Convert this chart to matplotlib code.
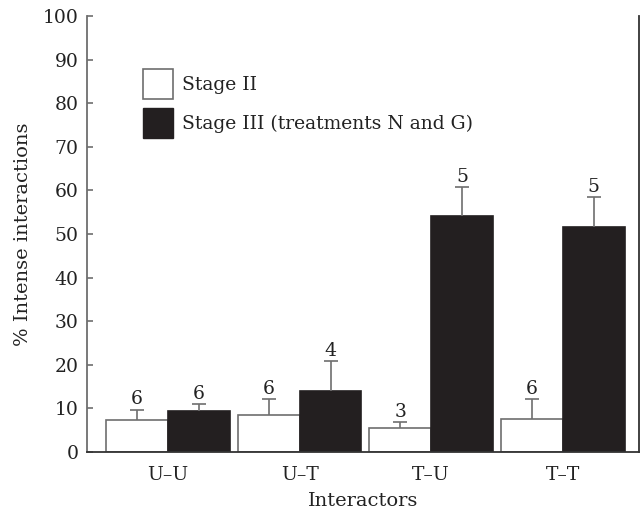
import matplotlib.pyplot as plt
import numpy as np
from matplotlib.patches import Patch

# data
groups = ['U\u2013U', 'U\u2013T', 'T\u2013U', 'T\u2013T']
stage2 = [7.4, 8.5, 5.6, 7.5]
stage2_err = [2.3, 3.6, 1.3, 4.7]
stage2_n = ['6', '6', '3', '6']
stage3 = [9.5, 14.0, 54.1, 51.6]
stage3_err = [1.4, 6.9, 6.6, 6.9]
stage3_n = ['6', '4', '5', '5']

plt.rcParams['font.family'] = ['DejaVu Serif']

fig = plt.figure(figsize=(6.4, 5.15), dpi=100)
ax = fig.add_axes([0.136, 0.1223, 0.862, 0.8466])

x = np.arange(len(groups))
w = 0.47
grey = '#6e6e6e'
dark = '#231f20'

ax.bar(x - w / 2, stage2, w, color='white', edgecolor=grey, linewidth=1.2)
ax.bar(x + w / 2, stage3, w, color=dark, edgecolor=dark, linewidth=1.2)
for xs, vals, errs in [(x - w / 2, stage2, stage2_err), (x + w / 2, stage3, stage3_err)]:
    eb = ax.errorbar(xs, vals, yerr=[np.zeros(4), errs], fmt='none',
                     ecolor=grey, elinewidth=1.2, capsize=5, capthick=1.2)
    eb[1][0].set_visible(False)  # no lower cap

for xi, v, e, n in zip(x - w / 2, stage2, stage2_err, stage2_n):
    ax.text(xi, v + e + 0.3, n, ha='center', va='bottom', fontsize=13.5, color='#222222')
for xi, v, e, n in zip(x + w / 2, stage3, stage3_err, stage3_n):
    ax.text(xi, v + e + 0.3, n, ha='center', va='bottom', fontsize=13.5, color='#222222')

ax.set_xlim(-0.615, 3.577)
ax.set_ylim(0, 100)
ax.set_yticks(range(0, 101, 10))
ax.set_xticks(x)
ax.set_xticklabels(groups)
ax.tick_params(axis='y', direction='in', length=4, width=1.2, color=grey,
               labelsize=13.5, pad=6, labelcolor='#222222')
ax.tick_params(axis='x', length=0, labelsize=13.5, pad=10, labelcolor='#222222')
ax.spines['top'].set_visible(False)
ax.spines['left'].set_color(grey)
ax.spines['right'].set_color('#333333')
ax.spines['bottom'].set_color('#333333')
for s in ['left', 'bottom', 'right']:
    ax.spines[s].set_linewidth(1.3)

ax.set_ylabel('% Intense interactions', fontsize=14, labelpad=8, color='#222222')
ax.set_xlabel('Interactors', fontsize=14, labelpad=6, color='#222222')

handles = [Patch(facecolor='white', edgecolor=grey, linewidth=1.2),
           Patch(facecolor=dark, edgecolor=dark)]
ax.legend(handles, ['Stage II', 'Stage III (treatments N and G)'],
          loc='upper left', bbox_to_anchor=(0.071, 0.918), frameon=False,
          fontsize=13.5, handlelength=1.6, handleheight=2.1,
          handletextpad=0.5, labelspacing=0.5, labelcolor='#222222')

fig.savefig('out.png', dpi=100)
